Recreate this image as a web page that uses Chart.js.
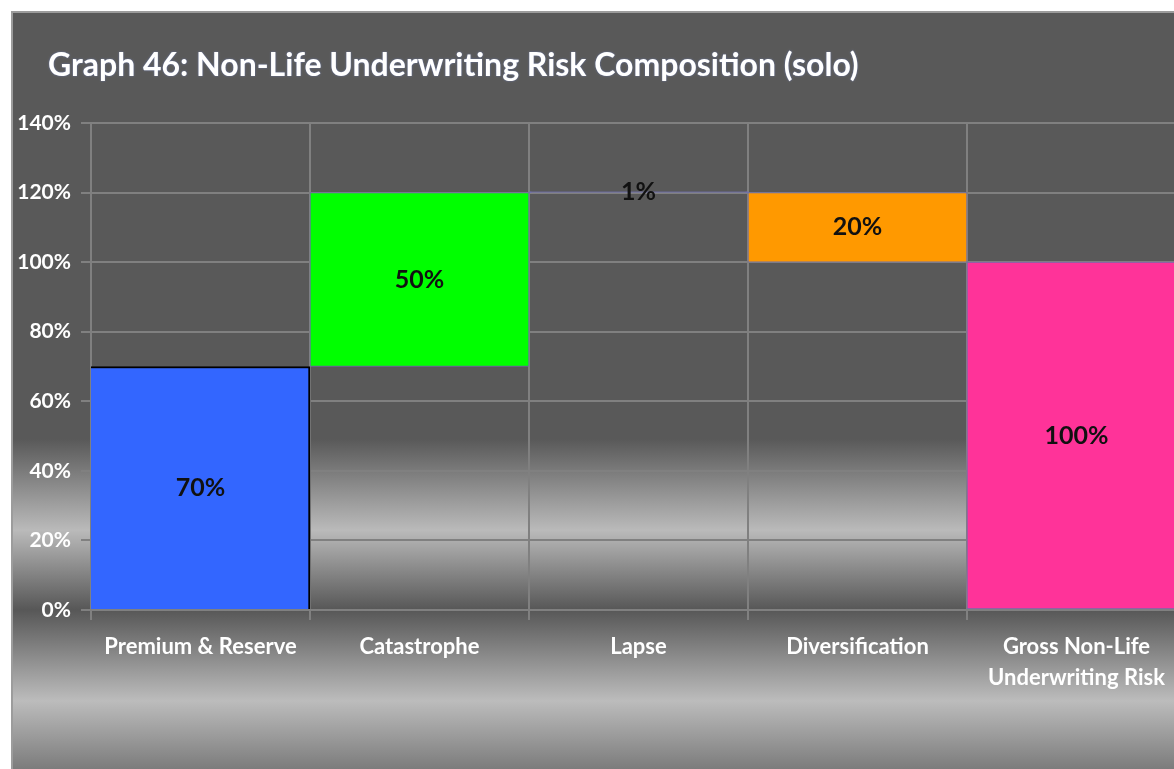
<!DOCTYPE html>
<html>
<head>
<meta charset="utf-8">
<script src="https://cdn.jsdelivr.net/npm/chart.js@4"></script>
<style>
  html, body { margin: 0; padding: 0; background: #ffffff; overflow: hidden; }
  body { width: 1174px; height: 769px; position: relative; }
  #wrap { position: absolute; left: 11px; top: 11px; width: 1180px; height: 758px; }
</style>
</head>
<body>
<div id="wrap"><canvas id="chart"></canvas></div>
<script>
// Datos del gráfico (waterfall)
const categorias = ['Premium & Reserve', 'Catastrophe', 'Lapse', 'Diversification', ['Gross Non-Life', 'Underwriting Risk']];
const inicio = [0, 70, 120, 100, 0];
const fin = [70, 120, 120.3, 120, 100];
const etiquetas = ['70%', '50%', '1%', '20%', '100%'];
const colores = ['#3366ff', '#00ff00', 'rgba(0,0,0,0)', '#ff9900', '#ff3399'];
const bordes = ['#000000', '#6f6fa8', '#7070b0', '#6f6fa8', '#6f6fa8'];
const ticksY = [0, 20, 40, 60, 80, 100, 120, 140];
const titulo = 'Graph 46: Non-Life Underwriting Risk Composition (solo)';

const FUENTE = 'Lato, "DejaVu Sans", sans-serif';

// Fondo degradado y título
const fondoPlugin = {
    id: 'fondo',
    beforeDraw(chart) {
        const ctx = chart.ctx;
        const h = chart.height, w = chart.width;
        const g = ctx.createLinearGradient(0, 0, 0, h);
        g.addColorStop(0, '#595959');
        g.addColorStop(0.565, '#595959');
        g.addColorStop(0.685, '#bababa');
        g.addColorStop(0.79, '#575757');
        g.addColorStop(0.91, '#bcbcbc');
        g.addColorStop(1, '#7c7c7c');
        ctx.save();
        ctx.fillStyle = g;
        ctx.fillRect(0, 0, w, h);
        ctx.fillStyle = '#9c9c9c';
        ctx.fillRect(0, 0, w, 2);
        ctx.fillRect(0, 0, 2, h);
        ctx.font = 'bold 32px ' + FUENTE;
        ctx.fillStyle = '#ffffff';
        ctx.textAlign = 'left';
        ctx.textBaseline = 'middle';
        ctx.shadowColor = 'rgba(120,150,255,0.5)';
        ctx.shadowBlur = 2;
        ctx.fillText(titulo, 37, 55);
        ctx.restore();
    }
};

// Etiquetas de valor dentro de las barras
const etiquetasPlugin = {
    id: 'etiquetas',
    afterDatasetsDraw(chart) {
        const ctx = chart.ctx;
        const meta = chart.getDatasetMeta(0);
        ctx.save();
        ctx.font = 'bold 25px ' + FUENTE;
        ctx.fillStyle = '#111111';
        ctx.textAlign = 'center';
        ctx.textBaseline = 'middle';
        meta.data.forEach((bar, i) => {
            const y = (bar.y + bar.base) / 2;
            ctx.fillText(etiquetas[i], bar.x, y);
        });
        ctx.restore();
    }
};

new Chart(document.getElementById('chart'), {
    type: 'bar',
    data: {
        labels: categorias,
        datasets: [{
            data: inicio.map((v, i) => [v, fin[i]]),
            backgroundColor: colores,
            borderColor: bordes,
            borderWidth: [
                {top: 2, right: 2, bottom: 0, left: 0},
                1, 2, 1, 1
            ],
            borderSkipped: false,
            barPercentage: 1,
            categoryPercentage: 1
        }]
    },
    options: {
        responsive: true,
        maintainAspectRatio: false,
        animation: false,
        layout: { padding: { right: 5, top: 112, left: 0, bottom: 0 } },
        plugins: {
            legend: { display: false },
            tooltip: { enabled: false },
            title: { display: false }
        },
        scales: {
            x: {
                grid: { color: '#808080', lineWidth: 2, offset: true, tickLength: 10, drawTicks: true },
                border: { color: '#808080', width: 2 },
                ticks: {
                    color: '#ffffff',
                    font: { family: FUENTE, size: 22, weight: 'bold', lineHeight: 1.4 },
                    padding: 12,
                    maxRotation: 0,
                    autoSkip: false
                },
                afterFit(scale) { scale.height = 159; }
            },
            y: {
                min: 0,
                max: 140,
                grid: { color: '#808080', lineWidth: 2, tickLength: 10 },
                border: { color: '#808080', width: 2 },
                afterBuildTicks(scale) { scale.ticks = ticksY.map(v => ({ value: v })); },
                ticks: {
                    color: '#ffffff',
                    font: { family: FUENTE, size: 21, weight: 'bold' },
                    padding: 10,
                    callback: v => v + '%'
                },
                afterFit(scale) { scale.width = 80; }
            }
        }
    },
    plugins: [fondoPlugin, etiquetasPlugin]
});
</script>
</body>
</html>
